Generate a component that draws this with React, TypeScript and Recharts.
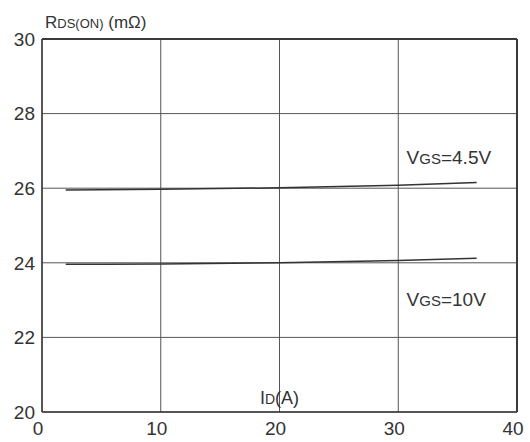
import { LineChart, Line, XAxis, YAxis, CartesianGrid, Label, ReferenceDot, ReferenceLine } from "recharts";

const currentA = [2, 10, 20, 30, 36.6];
const rdsVgs45 = [25.95, 25.97, 26.01, 26.08, 26.15];
const rdsVgs10 = [23.96, 23.97, 24.0, 24.06, 24.12];
const xTicks = [0, 10, 20, 30, 40];
const yTicks = [20, 22, 24, 26, 28, 30];

const data = currentA.map((id, i) => ({ id, v45: rdsVgs45[i], v10: rdsVgs10[i] }));

const ink = "#333";
const frame = "#3a3a3a";
const font = "'Liberation Sans', Arial, sans-serif";

const SeriesTag = ({ viewBox, main, sub, rest }: any) => (
  <text x={viewBox.x} y={viewBox.y} fill={ink} fontFamily={font} fontSize={19}>
    {main}
    <tspan fontSize={15}>{sub}</tspan>
    {rest}
  </text>
);

export default function App() {
  return (
    <div style={{ position: "absolute", left: 0, top: 0, background: "#fff" }}>
      <LineChart width={530} height={442} data={data} margin={{ top: 39, right: 13, left: 0, bottom: 0 }}>
        <CartesianGrid stroke="#555" strokeWidth={1} />
        <XAxis
          dataKey="id"
          type="number"
          domain={[0, 40]}
          ticks={xTicks}
          height={30}
          tickSize={0}
          tickMargin={10}
          axisLine={{ stroke: frame, strokeWidth: 1.5 }}
          tick={{ fill: ink, fontSize: 19, fontFamily: font, dx: -4 }}
        >
          <Label
            content={({ viewBox }: any) => (
              <text x={viewBox.x + viewBox.width / 2} y={viewBox.y - 8} textAnchor="middle" fill={ink} fontFamily={font} fontSize={18}>
                I<tspan fontSize={14}>D</tspan>(A)
              </text>
            )}
          />
        </XAxis>
        <YAxis
          type="number"
          domain={[20, 30]}
          ticks={yTicks}
          width={42}
          tickSize={0}
          tickMargin={7}
          axisLine={{ stroke: frame, strokeWidth: 1.5 }}
          tick={{ fill: ink, fontSize: 19, fontFamily: font }}
        >
          <Label
            content={({ viewBox }: any) => (
              <text x={viewBox.x + viewBox.width + 3} y={viewBox.y - 11} fill={ink} fontFamily={font} fontSize={17}>
                R<tspan fontSize={13}>DS(ON)</tspan> (mΩ)
              </text>
            )}
          />
        </YAxis>
        <ReferenceLine y={30} stroke={frame} strokeWidth={2} ifOverflow="extendDomain" />
        <ReferenceLine x={40} stroke={frame} strokeWidth={2} ifOverflow="extendDomain" />
        <Line dataKey="v45" type="monotone" stroke="#333" strokeWidth={1.5} dot={false} isAnimationActive={false} />
        <Line dataKey="v10" type="monotone" stroke="#333" strokeWidth={1.5} dot={false} isAnimationActive={false} />
        <ReferenceDot x={30.7} y={26.64} r={0} ifOverflow="visible" label={(p: any) => <SeriesTag {...p} main="V" sub="GS" rest="=4.5V" />} />
        <ReferenceDot x={30.7} y={22.85} r={0} ifOverflow="visible" label={(p: any) => <SeriesTag {...p} main="V" sub="GS" rest="=10V" />} />
      </LineChart>
    </div>
  );
}
